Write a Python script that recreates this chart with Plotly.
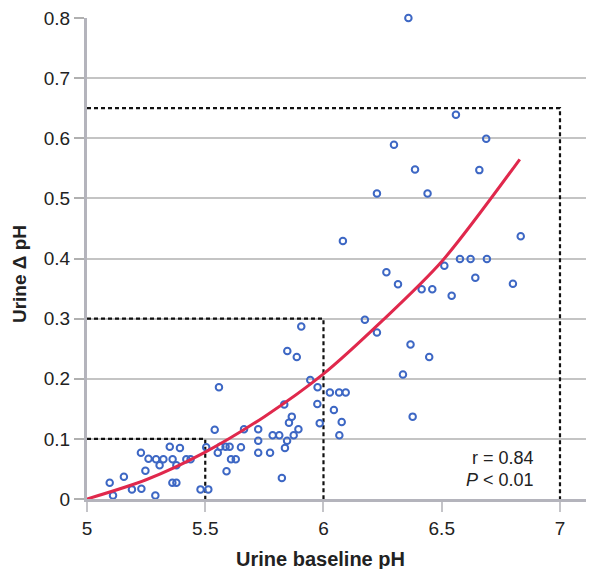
import plotly.graph_objects as go

# Scatter data (urine baseline pH vs urine delta pH)
baseline_ph = [5.096, 5.11, 5.156, 5.19, 5.228, 5.247, 5.23, 5.26, 5.289, 5.292,
               5.307, 5.323, 5.35, 5.362, 5.378, 5.393, 5.361, 5.378, 5.42, 5.438,
               5.48, 5.513, 5.504, 5.54, 5.558, 5.553, 5.564, 5.586, 5.603, 5.59,
               5.609, 5.629, 5.651, 5.664, 5.724, 5.724, 5.724, 5.774, 5.785, 5.813,
               5.824, 5.834, 5.837, 5.846, 5.854, 5.866, 5.874, 5.894, 5.847, 5.887,
               5.906, 5.944, 5.975, 5.974, 5.984, 6.027, 6.066, 6.094, 6.044, 6.077,
               6.067, 6.082, 6.175, 6.226, 6.266, 6.315, 6.226, 6.298, 6.359, 6.387,
               6.44, 6.415, 6.46, 6.368, 6.447, 6.336, 6.377, 6.511, 6.542, 6.56,
               6.577, 6.622, 6.642, 6.659, 6.688, 6.691, 6.801, 6.834]
delta_ph = [0.027, 0.006, 0.037, 0.016, 0.077, 0.047, 0.017, 0.067, 0.006, 0.066,
            0.056, 0.066, 0.087, 0.066, 0.056, 0.085, 0.027, 0.027, 0.066, 0.066,
            0.016, 0.016, 0.086, 0.115, 0.186, 0.077, 0.087, 0.087, 0.087, 0.046,
            0.066, 0.066, 0.086, 0.116, 0.116, 0.097, 0.077, 0.077, 0.106, 0.106,
            0.035, 0.157, 0.085, 0.097, 0.127, 0.137, 0.106, 0.116, 0.246, 0.236,
            0.287, 0.198, 0.186, 0.158, 0.126, 0.177, 0.177, 0.177, 0.148, 0.128,
            0.106, 0.429, 0.298, 0.277, 0.377, 0.357, 0.508, 0.589, 0.80, 0.548,
            0.508, 0.349, 0.349, 0.257, 0.236, 0.207, 0.137, 0.388, 0.338, 0.639,
            0.399, 0.399, 0.368, 0.547, 0.599, 0.399, 0.358, 0.437]

# Fitted curve, points
fit_x = [5.0, 5.25, 5.5, 5.75, 6.0, 6.25, 6.5, 6.83]
fit_y = [0.0, 0.032, 0.078, 0.137, 0.208, 0.297, 0.395, 0.565]

# Reference (dashed) levels
ref_x = [5.5, 6.0, 7.0]
ref_y = [0.1, 0.3, 0.65]

x_ticks = [5, 5.5, 6, 6.5, 7]
x_tick_text = ["5", "5.5", "6", "6.5", "7"]
y_ticks = [0, 0.1, 0.2, 0.3, 0.4, 0.5, 0.6, 0.7, 0.8]

stats_text = ["r = 0.84", "<i>P</i> < 0.01"]

FONT = "Liberation Sans, Arial, Helvetica, sans-serif"

fig = go.Figure()

for rx, ry in zip(ref_x, ref_y):
    fig.add_trace(go.Scatter(
        x=[x_ticks[0], rx, rx], y=[ry, ry, y_ticks[0]],
        mode="lines",
        line=dict(color="#111111", width=2.2, dash="4px,3px"),
        hoverinfo="skip", showlegend=False, cliponaxis=False))

fig.add_trace(go.Scatter(
    x=baseline_ph, y=delta_ph, mode="markers",
    marker=dict(symbol="circle-open", size=6.5, color="#3d67c4",
                line=dict(width=2, color="#3d67c4")),
    showlegend=False, cliponaxis=False))

fig.add_trace(go.Scatter(
    x=fit_x, y=fit_y, mode="lines",
    line=dict(color="#e0284c", width=3, shape="spline", smoothing=0.8),
    showlegend=False, cliponaxis=False))

fig.update_layout(
    width=592, height=569,
    margin=dict(l=87, r=6, t=18, b=70),
    paper_bgcolor="white", plot_bgcolor="white",
    font=dict(family=FONT, color="#222222", size=19),
    xaxis=dict(range=[5, 7.11], tickvals=x_ticks, ticktext=x_tick_text,
               showgrid=False, zeroline=False,
               showline=True, linecolor="#b4b4bc", linewidth=3,
               ticks="outside", ticklen=10, tickwidth=2, tickcolor="#c4c4c8",
               tickfont=dict(size=19, color="#222222")),
    yaxis=dict(range=[0, 0.8], tickvals=y_ticks,
               showgrid=True, gridcolor="#c4c4c4", gridwidth=1.5,
               zeroline=False,
               showline=True, linecolor="#b4b4bc", linewidth=3,
               ticks="outside", ticklen=10, tickwidth=1.5, tickcolor="#b0b0b0",
               tickfont=dict(size=19, color="#222222")),
    annotations=[
        dict(text="<b>Urine baseline pH</b>", xref="paper", yref="paper",
             x=0.467, y=-0.125, xanchor="center", yanchor="middle",
             showarrow=False, font=dict(size=20, color="#222222")),
        dict(text="<b>Urine Δ pH</b>", xref="paper", yref="paper",
             x=-0.134, y=0.468, xanchor="center", yanchor="middle",
             textangle=-90, showarrow=False, font=dict(size=19, color="#222222")),
        dict(text=stats_text[0], xref="paper", yref="paper",
             x=0.90, y=0.085, xanchor="right", yanchor="middle",
             showarrow=False, font=dict(size=18, color="#222222")),
        dict(text=stats_text[1], xref="paper", yref="paper",
             x=0.90, y=0.040, xanchor="right", yanchor="middle",
             showarrow=False, font=dict(size=18, color="#222222")),
    ],
)

fig.write_html("out.html",
               config={"displayModeBar": False},
               post_script="document.body.style.margin='0';document.body.style.overflow='hidden';")
